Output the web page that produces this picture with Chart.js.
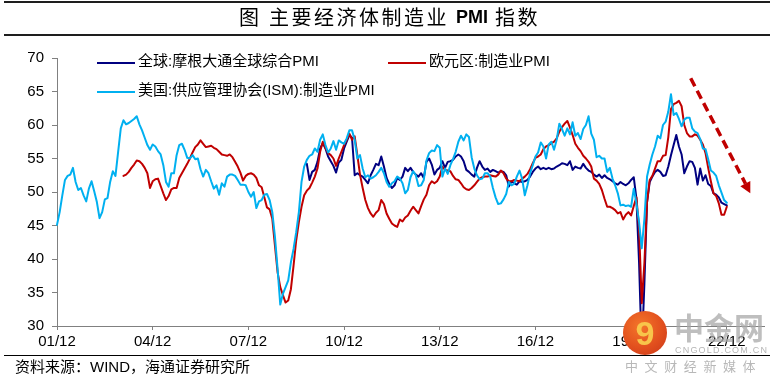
<!DOCTYPE html>
<html>
<head>
<meta charset="utf-8">
<script src="https://cdn.jsdelivr.net/npm/chart.js@4.4.0/dist/chart.umd.min.js"></script>
<style>
  body { margin: 0; background: #fff; }
  #wrap { position: relative; width: 777px; height: 383px; overflow: hidden; background: #fff;
          font-family: "Liberation Sans", "Noto Sans CJK SC", sans-serif; color: #000; }
  #c { position: absolute; left: 0; top: 0; }
  .hl { position: absolute; left: 4px; width: 766px; background: #1e1e1e; }
  .t { position: absolute; top: 6px; line-height: 22px; font-size: 20px; white-space: nowrap;
       font-family: "Noto Sans CJK SC", sans-serif; }
  #src { position: absolute; left: 15px; top: 358px; font-size: 15px; line-height: 18px; white-space: nowrap; }
  #logo { position: absolute; left: 623px; top: 311px; width: 44px; height: 44px; border-radius: 50%;
          background: radial-gradient(circle at 40% 35%, #F4762A 0%, #E2501E 55%, #C93619 100%); overflow: hidden; }
  #logo span { position: absolute; left: 0; top: 2px; width: 44px; text-align: center; font: bold 34px/40px "Liberation Sans", sans-serif;
               color: #F8C54A; }
  #wm1 { position: absolute; left: 674px; top: 309px; font: bold 30px/34px "Noto Sans CJK SC", sans-serif; color: #A9A9A9; white-space: nowrap; opacity: 0.75; }
  #wm2 { position: absolute; left: 675px; top: 345px; font: 9px/10px "Liberation Sans", sans-serif; color: #A9A9A9; letter-spacing: 1.2px; white-space: nowrap; opacity: 0.85; }
  #wm3 { position: absolute; left: 625px; top: 358px; font: 13px/16px "Noto Sans CJK SC", sans-serif; color: #B8B8B8; letter-spacing: 6.6px; white-space: nowrap; }
  svg { position: absolute; left: 0; top: 0; pointer-events: none; }
</style>
</head>
<body>
<div id="wrap">
  <canvas id="c" width="777" height="383"></canvas>
  <div class="hl" style="top:1px;height:2px;"></div>
  <div class="hl" style="top:34px;height:2px;"></div>
  <div class="hl" style="top:355px;height:1px;background:#000;"></div>
  <div class="t" style="left:239px;">图</div>
  <div class="t" style="left:269px;letter-spacing:2.5px;">主要经济体制造业</div>
  <div class="t" style="left:456px;font-family:'Liberation Sans',sans-serif;font-weight:bold;font-size:18px;">PMI</div>
  <div class="t" style="left:495px;letter-spacing:2.5px;">指数</div>
  <div id="src">资料来源：WIND，海通证券研究所</div>
  <svg width="777" height="383">
    <line x1="690.7" y1="78.3" x2="745.5" y2="183.7" stroke="#C00000" stroke-width="3.5" stroke-dasharray="9 5"/>
    <polygon points="740.3,186.3 750.3,181 750.3,193.3" fill="#C00000"/>
  </svg>
  <div id="logo"><span>9</span></div>
  <div id="wm1">中金网</div>
  <div id="wm2">CNGOLD.COM.CN</div>
  <div id="wm3">中文财经新媒体</div>
</div>
<script>
// ---- DATA (monthly, first category = 2001-12) ----
const monthCount = 267;               // 2001-12 ... 2024-02 (axis extent)
const xTickLabels = ['01/12','04/12','07/12','10/12','13/12','16/12','19/12','22/12'];

// 美国:供应管理协会(ISM):制造业PMI, from 2001-12
const ismStart = 0;
const ismValues = [
  45.1,47.0,49.5,51.8,52.4,52.6,53.6,51.5,50.3,50.6,
  49.5,48.6,50.5,51.6,50.1,48.5,46.1,47.0,48.9,49.1,
  51.5,53.1,52.4,56.0,59.5,60.7,60.1,60.3,60.6,60.9,
  61.3,60.1,59.2,58.1,57.0,56.3,57.1,56.8,56.1,55.6,
  54.0,51.5,50.8,52.8,52.8,55.5,57.0,57.2,56.3,55.1,
  55.0,55.5,54.9,55.0,53.4,52.3,53.3,52.8,51.6,50.5,
  51.0,49.6,51.3,50.8,52.3,52.6,52.6,52.4,51.8,51.1,
  51.1,51.0,50.0,49.3,50.0,47.6,48.6,48.8,49.6,49.7,
  48.8,47.0,43.3,38.5,33.2,34.8,35.8,36.8,39.5,41.5,
  44.0,47.0,51.5,53.8,54.8,55.4,55.6,56.5,56.0,57.8,
  58.6,57.0,55.9,56.5,57.6,56.3,57.7,57.4,57.2,58.0,
  59.2,59.2,57.8,55.0,55.5,53.5,52.2,52.5,52.0,52.2,
  52.5,53.0,53.6,52.8,51.5,50.8,51.3,51.6,52.3,52.0,
  51.3,49.8,50.3,52.2,53.1,52.5,50.9,51.0,51.8,54.7,
  55.8,56.2,56.1,57.0,56.6,52.3,53.5,52.7,54.0,54.9,
  56.0,57.5,58.4,57.7,58.6,58.2,55.2,53.5,52.5,51.9,
  52.0,52.8,52.8,52.3,50.6,49.2,48.2,48.3,48.9,49.7,
  51.5,51.0,51.2,52.3,53.2,52.0,49.5,51.0,52.8,54.0,
  55.3,55.9,57.4,56.8,55.0,57.1,57.5,56.3,57.8,60.2,
  59.4,58.4,59.5,58.6,60.4,58.4,58.8,57.9,59.4,60.0,
  61.3,58.7,57.8,55.2,55.4,55.0,55.0,53.0,53.6,52.0,
  51.0,49.8,48.0,48.1,47.9,48.0,47.8,50.5,48.3,45.5,
  41.6,46.0,52.3,54.1,55.6,56.8,58.4,58.0,60.0,60.5,
  62.0,64.6,61.5,61.8,60.9,59.8,60.8,61.1,61.1,59.5,
  59.0,58.8,57.9,56.5,56.4,54.9,53.2,52.9,52.4,51.0,
  49.9,48.8,48.4
];

// 欧元区:制造业PMI, from 2004-01
const ezStart = 25;
const ezValues = [
  52.4,52.6,53.0,53.6,54.1,
  54.7,54.6,54.2,53.6,52.8,50.6,51.6,51.9,52.0,50.9,
  49.8,48.8,49.4,50.4,50.6,50.6,52.1,52.8,53.5,54.2,
  55.0,55.9,56.7,57.1,57.7,57.2,56.7,56.8,56.9,56.6,
  56.4,56.0,55.6,55.5,55.4,55.6,55.2,54.5,53.8,52.9,
  51.7,52.4,52.7,52.8,52.6,52.1,51.0,50.7,49.2,47.7,
  47.4,46.0,42.0,38.0,35.8,34.6,33.5,33.8,35.5,39.0,
  42.8,45.5,47.8,49.5,50.2,50.6,51.4,52.3,53.5,56.0,
  57.5,56.6,55.8,55.5,55.0,53.9,55.0,56.0,57.0,57.8,
  58.7,57.8,58.3,55.5,52.6,50.6,48.8,47.6,46.8,46.3,
  46.9,47.3,48.8,48.2,46.8,46.0,45.3,45.0,44.8,45.9,
  45.6,46.2,46.5,47.2,47.8,47.3,46.8,47.9,48.9,49.6,
  51.0,51.6,51.3,51.6,52.3,53.8,53.3,53.2,53.1,52.4,
  51.9,51.8,51.3,50.7,50.4,50.3,50.6,51.0,51.5,52.0,
  52.2,52.3,52.3,52.5,52.4,52.3,52.6,53.2,52.8,52.0,
  51.6,51.6,51.8,51.7,51.6,52.0,52.3,52.7,53.4,54.3,
  55.1,55.3,55.6,56.4,56.8,57.0,57.3,57.5,58.0,59.0,
  59.7,60.2,60.6,59.6,58.5,57.2,56.6,56.1,55.4,55.0,
  54.5,53.8,52.0,51.7,51.2,50.3,49.0,47.8,47.8,47.6,
  47.3,46.8,47.0,45.9,46.6,47.0,46.5,47.9,49.2,44.5,
  33.4,39.4,48.5,51.8,52.4,53.5,54.6,54.6,55.4,55.5,
  58.2,62.4,63.1,63.3,63.6,62.8,60.0,58.8,58.3,58.3,
  58.6,58.4,57.8,57.1,55.8,53.6,51.6,49.8,49.4,48.3,
  46.6,46.6,47.8
];

// 全球:摩根大通全球综合PMI, from 2009-10
const jpmStart = 94;
const jpmValues = [
  54.2,51.8,53.0,53.3,54.5,56.5,
  57.3,56.5,55.3,54.6,53.9,52.9,54.4,54.8,56.5,57.5,
  58.5,58.1,52.5,52.8,52.5,52.3,51.8,51.3,52.5,53.3,
  54.2,54.0,55.3,53.8,52.1,51.2,50.6,51.0,52.1,51.8,
  52.3,53.6,53.1,53.6,53.0,52.6,52.3,52.8,52.1,54.5,
  55.0,54.1,52.6,53.3,53.6,54.6,53.6,54.5,54.6,54.8,
  55.3,55.6,55.3,54.6,53.3,53.0,52.6,52.3,53.6,54.6,
  53.8,53.3,53.5,53.0,53.3,53.1,52.9,53.1,53.0,52.5,
  50.8,51.6,51.3,51.1,51.6,51.5,51.6,51.8,52.3,53.0,
  53.5,53.8,53.4,53.6,53.4,53.6,53.4,53.5,53.8,54.0,
  54.3,54.2,54.0,54.6,53.3,53.8,53.6,53.5,54.2,53.6,
  53.2,53.0,52.6,52.3,52.6,52.1,52.5,52.1,51.9,51.6,
  51.3,51.1,51.5,51.2,51.0,51.3,51.8,52.2,49.0,39.4,
  26.2,36.3,48.5,51.5,52.3,53.0,53.3,53.0,52.4,52.5,
  53.8,55.5,57.0,58.5,56.8,55.6,52.8,53.8,54.6,54.5,
  53.6,51.1,53.5,51.7,52.5,51.2,50.9,49.8,49.6,49.2,
  48.4,48.2,48.0
];

const seriesNames = ['全球:摩根大通全球综合PMI', '欧元区:制造业PMI', '美国:供应管理协会(ISM):制造业PMI'];
const seriesColors = ['#000080', '#C00000', '#00B0F0'];

// ---- build ----
const categories = [];
for (let k = 0; k < monthCount; k++) {
  const y = 2001 + Math.floor((11 + k) / 12);
  const m = (11 + k) % 12 + 1;
  categories.push(y + '-' + String(m).padStart(2, '0'));
}
const pad = (start, arr) => Array(start).fill(null).concat(arr);

const legendItems = [
  { ds: 0, x: 97, y: 63 },
  { ds: 1, x: 388, y: 63 },
  { ds: 2, x: 97, y: 92 }
];

const inlineLegend = {
  id: 'inlineLegend',
  afterDatasetsDraw(chart) {
    const ctx = chart.ctx;
    ctx.save();
    ctx.font = '15px "Liberation Sans", "Noto Sans CJK SC", sans-serif';
    ctx.textBaseline = 'middle';
    ctx.textAlign = 'left';
    legendItems.forEach(it => {
      const ds = chart.data.datasets[it.ds];
      ctx.strokeStyle = ds.borderColor;
      ctx.lineWidth = 2;
      ctx.beginPath();
      ctx.moveTo(it.x, it.y);
      ctx.lineTo(it.x + 38, it.y);
      ctx.stroke();
      ctx.fillStyle = '#000';
      ctx.fillText(ds.label, it.x + 41, it.y - 1);
    });
    ctx.restore();
  }
};

const axisColor = '#808080';
new Chart(document.getElementById('c'), {
  type: 'line',
  data: {
    labels: categories,
    datasets: [
      { label: seriesNames[0], data: pad(jpmStart, jpmValues), borderColor: seriesColors[0], order: 3 },
      { label: seriesNames[1], data: pad(ezStart, ezValues), borderColor: seriesColors[1], order: 2 },
      { label: seriesNames[2], data: pad(ismStart, ismValues), borderColor: seriesColors[2], order: 1 }
    ]
  },
  options: {
    responsive: false,
    animation: false,
    devicePixelRatio: 1,
    layout: { padding: { left: 0, right: 13, top: 58, bottom: 0 } },
    plugins: { legend: { display: false }, tooltip: { enabled: false }, title: { display: false } },
    elements: {
      point: { radius: 0 },
      line: { tension: 0, borderWidth: 2, borderJoinStyle: 'round', borderCapStyle: 'round', fill: false }
    },
    scales: {
      x: {
        type: 'category',
        offset: false,
        grid: { display: true, drawOnChartArea: false, drawTicks: true, tickLength: 4, color: axisColor },
        border: { display: true, color: axisColor, width: 1 },
        ticks: {
          autoSkip: false, maxRotation: 0, minRotation: 0, padding: 3, color: '#000',
          font: { family: '"Liberation Sans", sans-serif', size: 15 },
          callback: (v, i) => (i % 36 === 0 && i <= 252) ? xTickLabels[i / 36] : null
        },
        afterFit: s => { s.height = 57; }
      },
      y: {
        min: 30, max: 70,
        grid: { display: true, drawOnChartArea: false, drawTicks: true, tickLength: 5, color: axisColor },
        border: { display: true, color: axisColor, width: 1 },
        ticks: { stepSize: 5, padding: 8, color: '#000', font: { family: '"Liberation Sans", sans-serif', size: 15 } },
        afterFit: s => { s.width = 57; }
      }
    }
  },
  plugins: [inlineLegend]
});
</script>
</body>
</html>
